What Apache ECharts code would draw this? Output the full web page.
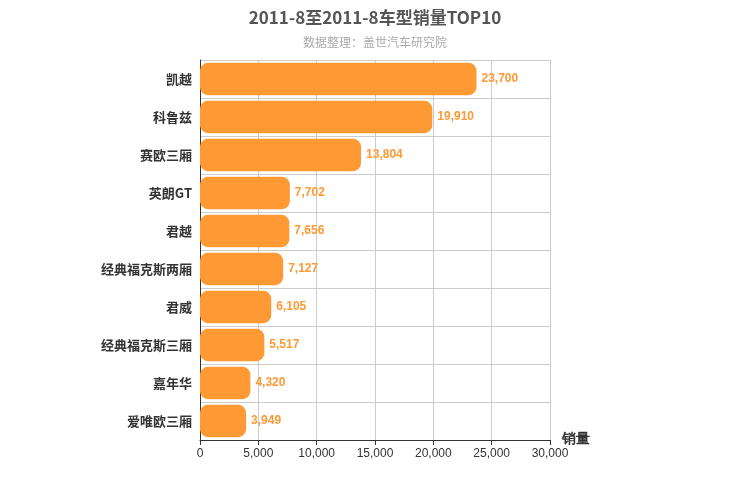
<!DOCTYPE html>
<html lang="zh">
<head>
    <meta charset="UTF-8">
    <title>销量TOP10</title>
    <script src="https://cdn.jsdelivr.net/npm/echarts@6/dist/echarts.min.js"></script>
    <style>body{margin:0;} #chart{width:750px;height:500px;}</style>
</head>
<body>
    <div id="chart"></div>
    <script>
        // 车型（从上到下）
        var models = ['凯越', '科鲁兹', '赛欧三厢', '英朗GT', '君越', '经典福克斯两厢', '君威', '经典福克斯三厢', '嘉年华', '爱唯欧三厢'];
        var sales = [23700, 19910, 13804, 7702, 7656, 7127, 6105, 5517, 4320, 3949];

        var myChart = echarts.init(document.getElementById('chart'));
        var option = {
            title: {
                text: '2011-8至2011-8车型销量TOP10',
                subtext: '数据整理：盖世汽车研究院',
                left: 'center',
                top: 4,
                itemGap: 10,
                textStyle: { color: '#555', fontSize: 17, fontWeight: 'bold', fontFamily: 'Noto Sans CJK SC' },
                subtextStyle: { color: '#aaa', fontSize: 12, fontFamily: 'Noto Sans CJK SC' }
            },
            grid: { left: 200, right: 200, top: 60, bottom: 60 },
            xAxis: {
                type: 'value',
                min: 0, max: 30000, interval: 5000,
                name: '销量',
                nameLocation: 'end',
                nameGap: 12,
                nameTextStyle: { color: '#333', fontSize: 14, fontWeight: 'bold', verticalAlign: 'top', padding: [-8, 0, 0, 0] },
                axisLine: { show: true, lineStyle: { color: '#333' } },
                axisTick: { show: true },
                axisLabel: { color: '#333', fontSize: 12 },
                splitLine: { lineStyle: { color: '#ccc' } }
            },
            yAxis: {
                type: 'category',
                inverse: true,
                data: models,
                axisLine: { lineStyle: { color: '#333' } },
                axisTick: { show: false },
                axisLabel: { color: '#333', fontSize: 13, fontWeight: 'bold', fontFamily: 'Noto Sans CJK SC' },
                splitLine: { show: true, lineStyle: { color: '#ccc' } }
            },
            series: [{
                type: 'bar',
                data: sales,
                barWidth: '85%',
                itemStyle: { color: '#FF9933', borderRadius: 8 },
                label: {
                    show: true,
                    position: 'right',
                    color: '#FF9933',
                    fontSize: 12,
                    fontWeight: 'bold',
                    formatter: function (p) { return p.value.toLocaleString('en-US'); }
                }
            }]
        };
        myChart.setOption(option);
    </script>
</body>
</html>
